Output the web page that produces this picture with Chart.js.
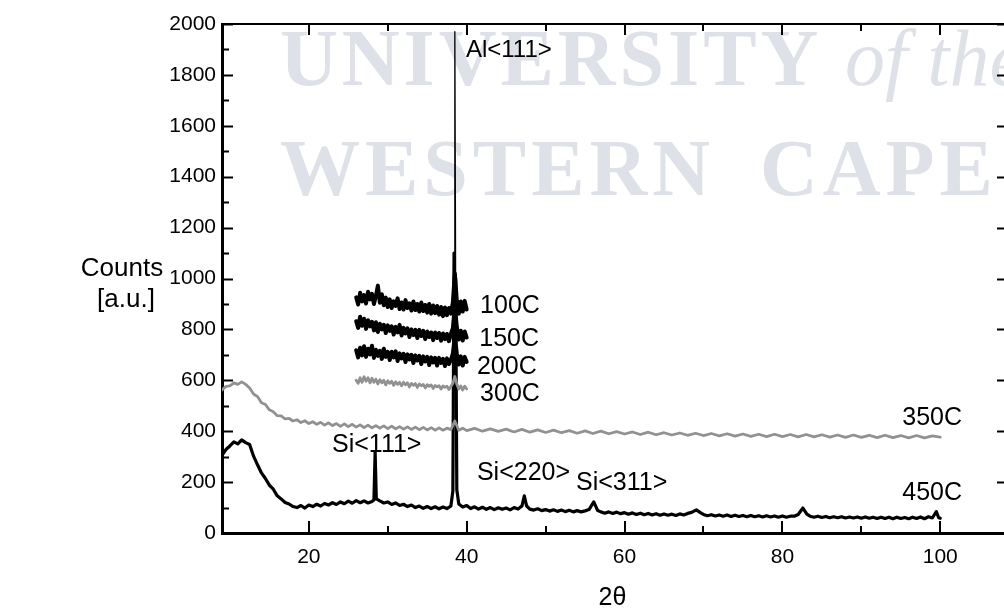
<!DOCTYPE html>
<html>
<head>
<meta charset="utf-8">
<script src="https://cdn.jsdelivr.net/npm/chart.js@4.4.1/dist/chart.umd.min.js"></script>
<style>
  body { margin: 0; background: #fff; }
  canvas { display: block; }
</style>
</head>
<body>
<canvas id="xrdChart" width="1004" height="612"></canvas>
<script>
// XRD scans of the Al/Si samples after annealing (counts vs 2-theta)

// low temperature scans only cover 26..40 deg
const shortAngles = [
  26, 26.25, 26.5, 26.75, 27, 27.25, 27.5, 27.75, 28, 28.25,
  28.5, 28.75, 29, 29.25, 29.5, 29.75, 30, 30.25, 30.5, 30.75,
  31, 31.25, 31.5, 31.75, 32, 32.25, 32.5, 32.75, 33, 33.25,
  33.5, 33.75, 34, 34.25, 34.5, 34.75, 35, 35.25, 35.5, 35.75,
  36, 36.25, 36.5, 36.75, 37, 37.25, 37.5, 37.75, 38, 38.25,
  38.5, 38.75, 39, 39.25, 39.5, 39.75, 40
];
const counts100C = [
  926, 898, 944, 910, 935, 902, 948, 918, 940, 900,
  932, 972, 905, 938, 895, 925, 888, 918, 884, 910,
  892, 922, 880, 906, 878, 915, 884, 902, 874, 910,
  876, 900, 870, 906, 872, 896, 866, 900, 862, 894,
  864, 892, 858, 888, 852, 886, 856, 884, 862, 905,
  1020, 912, 862, 910, 870, 912, 878
];
const counts150C = [
  832, 806, 850, 814, 842, 802, 836, 812, 830, 796,
  828, 790, 822, 800, 818, 786, 816, 794, 812, 780,
  810, 788, 818, 776, 806, 784, 804, 770, 800, 778,
  798, 766, 798, 774, 794, 762, 792, 770, 788, 758,
  788, 766, 786, 756, 784, 762, 782, 754, 782, 805,
  890, 810, 760, 795, 756, 792, 768
];
const counts200C = [
  718, 690, 728, 698, 734, 692, 724, 702, 736, 688,
  720, 696, 716, 684, 724, 692, 712, 680, 712, 690,
  714, 676, 706, 686, 704, 672, 702, 682, 700, 668,
  698, 678, 696, 664, 694, 674, 692, 660, 690, 670,
  688, 658, 688, 668, 684, 656, 686, 664, 680, 705,
  770, 705, 662, 694, 658, 692, 672
];
const counts300C = [
  600, 588, 610, 592, 614, 596, 610, 590, 608, 592,
  604, 586, 602, 590, 600, 582, 598, 588, 596, 580,
  594, 584, 592, 578, 592, 582, 590, 574, 588, 580,
  587, 572, 586, 578, 584, 570, 583, 576, 582, 568,
  580, 574, 579, 566, 578, 572, 577, 564, 576, 588,
  615, 585, 566, 578, 562, 577, 566
];

// full range scans, [2theta, counts]
const pattern350C = [
  [9, 562], [9.5, 576], [10, 578], [10.5, 590], [11, 584], [11.5, 594], [12, 584], [12.5, 570], [13, 546], [13.5, 536],
  [14, 512], [14.5, 505], [15, 484], [15.5, 476], [16, 461], [16.5, 460], [17, 448], [17.5, 450], [18, 440], [18.5, 445],
  [19, 434], [19.5, 441], [20, 430], [20.5, 437], [21, 427], [21.5, 435], [22, 424], [22.5, 433], [23, 422], [23.5, 430],
  [24, 419], [24.5, 429], [25, 418], [25.5, 427], [26, 416], [26.5, 425], [27, 414], [27.5, 424], [28, 413], [28.5, 422],
  [29, 412], [29.5, 421], [30, 410], [30.5, 420], [31, 409], [31.5, 418], [32, 408], [32.5, 417], [33, 407], [33.5, 416],
  [34, 406], [34.5, 415], [35, 405], [35.5, 414], [36, 404], [36.5, 413], [37, 404], [37.5, 412], [38, 406], [38.5, 440],
  [39, 404], [39.5, 412], [40, 402], [41, 411], [42, 400], [43, 409], [44, 399], [45, 408], [46, 397], [47, 407],
  [48, 396], [49, 405], [50, 395], [51, 404], [52, 394], [53, 402], [54, 392], [55, 401], [56, 391], [57, 400],
  [58, 390], [59, 398], [60, 389], [61, 397], [62, 387], [63, 396], [64, 386], [65, 394], [66, 385], [67, 393],
  [68, 384], [69, 392], [70, 383], [71, 391], [72, 382], [73, 390], [74, 381], [75, 389], [76, 380], [77, 388],
  [78, 379], [79, 388], [80, 379], [81, 387], [82, 378], [83, 387], [84, 378], [85, 386], [86, 377], [87, 385],
  [88, 376], [89, 385], [90, 376], [91, 384], [92, 375], [93, 384], [94, 375], [95, 383], [96, 374], [97, 383],
  [98, 374], [99, 382], [100, 377]
];
const pattern450C = [
  [9, 305], [9.5, 328], [10, 342], [10.5, 358], [11, 350], [11.5, 366], [12, 355], [12.5, 348], [13, 302], [13.5, 268],
  [14, 236], [14.5, 214], [15, 188], [15.5, 172], [16, 146], [16.5, 134], [17, 120], [17.5, 114], [18, 104], [18.5, 100],
  [19, 108], [19.5, 98], [20, 110], [20.5, 104], [21, 113], [21.5, 106], [22, 116], [22.5, 110], [23, 119], [23.5, 112],
  [24, 122], [24.5, 115], [25, 125], [25.5, 117], [26, 127], [26.5, 119], [27, 126], [27.5, 118], [28, 124], [28.25, 130],
  [28.4, 318], [28.55, 134], [29, 126], [29.5, 118], [30, 122], [30.5, 112], [31, 118], [31.5, 108], [32, 113], [32.5, 104],
  [33, 110], [33.5, 100], [34, 106], [34.5, 97], [35, 104], [35.5, 96], [36, 103], [36.5, 95], [37, 102], [37.5, 96],
  [38, 106], [38.25, 165], [38.4, 1100], [38.5, 1970], [38.6, 1000], [38.75, 170], [39, 114], [39.5, 102], [40, 108], [40.5, 96],
  [41, 103], [41.5, 94], [42, 101], [42.5, 93], [43, 100], [43.5, 92], [44, 99], [44.5, 93], [45, 98], [45.5, 91],
  [46, 100], [46.5, 94], [47, 106], [47.3, 146], [47.6, 106], [48, 94], [48.5, 90], [49, 95], [49.5, 88], [50, 92],
  [50.5, 86], [51, 91], [51.5, 85], [52, 90], [52.5, 84], [53, 89], [53.5, 83], [54, 88], [54.5, 83], [55, 87],
  [55.5, 92], [56.1, 122], [56.6, 88], [57, 83], [57.5, 78], [58, 83], [58.5, 77], [59, 82], [59.5, 76], [60, 80],
  [60.5, 74], [61, 79], [61.5, 73], [62, 78], [62.5, 72], [63, 77], [63.5, 71], [64, 76], [64.5, 70], [65, 75],
  [65.5, 70], [66, 74], [66.5, 69], [67, 75], [67.5, 71], [68, 77], [68.5, 81], [69.1, 91], [69.6, 80], [70, 73],
  [70.5, 68], [71, 72], [71.5, 67], [72, 71], [72.5, 66], [73, 71], [73.5, 65], [74, 70], [74.5, 65], [75, 69],
  [75.5, 64], [76, 69], [76.5, 64], [77, 68], [77.5, 63], [78, 68], [78.5, 63], [79, 67], [79.5, 62], [80, 67],
  [80.5, 62], [81, 66], [81.5, 66], [82, 73], [82.6, 98], [83.1, 74], [83.5, 66], [84, 62], [84.5, 66], [85, 61],
  [85.5, 65], [86, 60], [86.5, 64], [87, 60], [87.5, 64], [88, 59], [88.5, 63], [89, 59], [89.5, 63], [90, 58],
  [90.5, 63], [91, 58], [91.5, 62], [92, 57], [92.5, 62], [93, 57], [93.5, 62], [94, 56], [94.5, 62], [95, 57],
  [95.5, 61], [96, 56], [96.5, 62], [97, 57], [97.5, 63], [98, 56], [98.5, 64], [99, 59], [99.5, 84], [99.8, 60],
  [100, 58]
];

const xMajorTicks = [20, 40, 60, 80, 100];
const xMinorTicks = [30, 50, 70, 90];
const yMajorTicks = [0, 200, 400, 600, 800, 1000, 1200, 1400, 1600, 1800, 2000];
const yMinorTicks = [100, 300, 500, 700, 900, 1100, 1300, 1500, 1700, 1900];

// text placed in data coordinates
const peakLabels = [
  { text: 'Al<111>', x: 39.9, y: 1898, align: 'left', size: 24 },
  { text: '100C', x: 41.7, y: 892, align: 'left', size: 25 },
  { text: '150C', x: 41.6, y: 762, align: 'left', size: 25 },
  { text: '200C', x: 41.3, y: 652, align: 'left', size: 25 },
  { text: '300C', x: 41.7, y: 546, align: 'left', size: 25 },
  { text: '350C', x: 102.76, y: 452, align: 'right', size: 25 },
  { text: '450C', x: 102.76, y: 155, align: 'right', size: 25 },
  { text: 'Si<111>', x: 22.94, y: 347, align: 'left', size: 25 },
  { text: 'Si<220>', x: 41.3, y: 234, align: 'left', size: 25 },
  { text: 'Si<311>', x: 53.85, y: 196, align: 'left', size: 25 }
];

const FONT = "'Liberation Sans', Arial, sans-serif";
Chart.defaults.font.family = FONT;
Chart.defaults.color = '#000';

const zip = (xs, ys) => xs.map((x, i) => ({ x: x, y: ys[i] }));
const pairs = rows => rows.map(r => ({ x: r[0], y: r[1] }));

function spacedText(ctx, text, x, y, gap) {
  for (const ch of text) {
    ctx.fillText(ch, x, y);
    x += ctx.measureText(ch).width + gap;
  }
}

const decorations = {
  id: 'decorations',
  beforeDatasetsDraw(chart) {
    const ctx = chart.ctx;
    ctx.save();
    ctx.fillStyle = 'rgb(223, 225, 232)';
    ctx.textBaseline = 'alphabetic';
    ctx.font = "bold 80px 'Liberation Serif', serif";
    spacedText(ctx, 'UNIVERSITY', 280, 85, 4);
    spacedText(ctx, 'WESTERN', 280, 195, 5);
    spacedText(ctx, 'CAPE', 760, 195, 5);
    ctx.font = "italic 80px 'Liberation Serif', serif";
    ctx.fillText('of the', 845, 85);
    ctx.restore();
  },
  afterDatasetsDraw(chart) {
    const { ctx, chartArea: area, scales: { x, y } } = chart;
    ctx.save();
    ctx.strokeStyle = '#000';

    // top frame line
    ctx.lineWidth = 2;
    ctx.beginPath();
    ctx.moveTo(area.left, area.top);
    ctx.lineTo(area.right + 1, area.top);
    ctx.stroke();

    // inward tick marks
    ctx.lineWidth = 2;
    const tick = (x0, y0, x1, y1) => { ctx.beginPath(); ctx.moveTo(x0, y0); ctx.lineTo(x1, y1); ctx.stroke(); };
    yMajorTicks.forEach(v => {
      const py = Math.round(y.getPixelForValue(v)) + 0.5;
      tick(area.left, py, area.left + 11, py);
      tick(area.right - 6, py, area.right + 1, py);
    });
    yMinorTicks.forEach(v => {
      const py = Math.round(y.getPixelForValue(v)) + 0.5;
      tick(area.left, py, area.left + 7, py);
    });
    xMajorTicks.forEach(v => {
      const px = Math.round(x.getPixelForValue(v));
      tick(px, area.bottom, px, area.bottom - 12);
      tick(px, area.top, px, area.top + 11);
    });
    xMinorTicks.forEach(v => {
      const px = Math.round(x.getPixelForValue(v));
      tick(px, area.bottom, px, area.bottom - 7);
      tick(px, area.top, px, area.top + 7);
    });

    // peak and temperature labels
    ctx.fillStyle = '#000';
    ctx.textBaseline = 'middle';
    peakLabels.forEach(l => {
      ctx.font = l.size + 'px ' + FONT;
      ctx.textAlign = l.align;
      ctx.fillText(l.text, x.getPixelForValue(l.x), y.getPixelForValue(l.y));
    });

    // axis titles
    ctx.textAlign = 'center';
    ctx.font = '26px ' + FONT;
    ctx.fillText('Counts', 122, 269);
    ctx.fillText('[a.u.]', 126, 300);
    ctx.font = '25px ' + FONT;
    ctx.fillText('2\u03B8', (area.left + area.right) / 2, 598);
    ctx.restore();
  }
};

const joins = { borderJoinStyle: 'round', borderCapStyle: 'round' };

new Chart(document.getElementById('xrdChart'), {
  type: 'line',
  data: {
    datasets: [
      { label: '350C', data: pairs(pattern350C), borderColor: '#919191', borderWidth: 2.8, ...joins },
      { label: '300C', data: zip(shortAngles, counts300C), borderColor: '#919191', borderWidth: 2.8, ...joins },
      { label: '200C', data: zip(shortAngles, counts200C), borderColor: '#000', borderWidth: 4, ...joins },
      { label: '150C', data: zip(shortAngles, counts150C), borderColor: '#000', borderWidth: 4, ...joins },
      { label: '100C', data: zip(shortAngles, counts100C), borderColor: '#000', borderWidth: 4, ...joins },
      {
        label: '450C', data: pairs(pattern450C), borderColor: '#000', borderWidth: 3.2, ...joins,
        segment: {
          // the tip of the Al peak is a thin line
          borderWidth: c => (c.p0.parsed.y > 600 && c.p1.parsed.y > 600) ? 1.3 : undefined
        }
      }
    ]
  },
  options: {
    responsive: false,
    animation: false,
    layout: { padding: { top: 24, right: 1, left: 0, bottom: 0 } },
    elements: { point: { radius: 0 }, line: { tension: 0 } },
    plugins: { legend: { display: false }, tooltip: { enabled: false } },
    scales: {
      x: {
        type: 'linear',
        min: 9,
        max: 107.95,
        grid: { display: false, drawTicks: false },
        border: { display: true, color: '#000', width: 3 },
        ticks: { font: { size: 21 }, padding: 12, color: '#000', callback: v => String(v) },
        afterBuildTicks: s => { s.ticks = xMajorTicks.map(v => ({ value: v })); },
        afterFit: s => { s.height = 79; }
      },
      y: {
        min: 0,
        max: 2000,
        grid: { display: false, drawTicks: false },
        border: { display: true, color: '#000', width: 3 },
        ticks: { font: { size: 21 }, padding: 6, color: '#000', callback: v => String(v) },
        afterBuildTicks: s => { s.ticks = yMajorTicks.map(v => ({ value: v })); },
        afterFit: s => { s.width = 222; }
      }
    }
  },
  plugins: [decorations]
});
</script>
</body>
</html>
